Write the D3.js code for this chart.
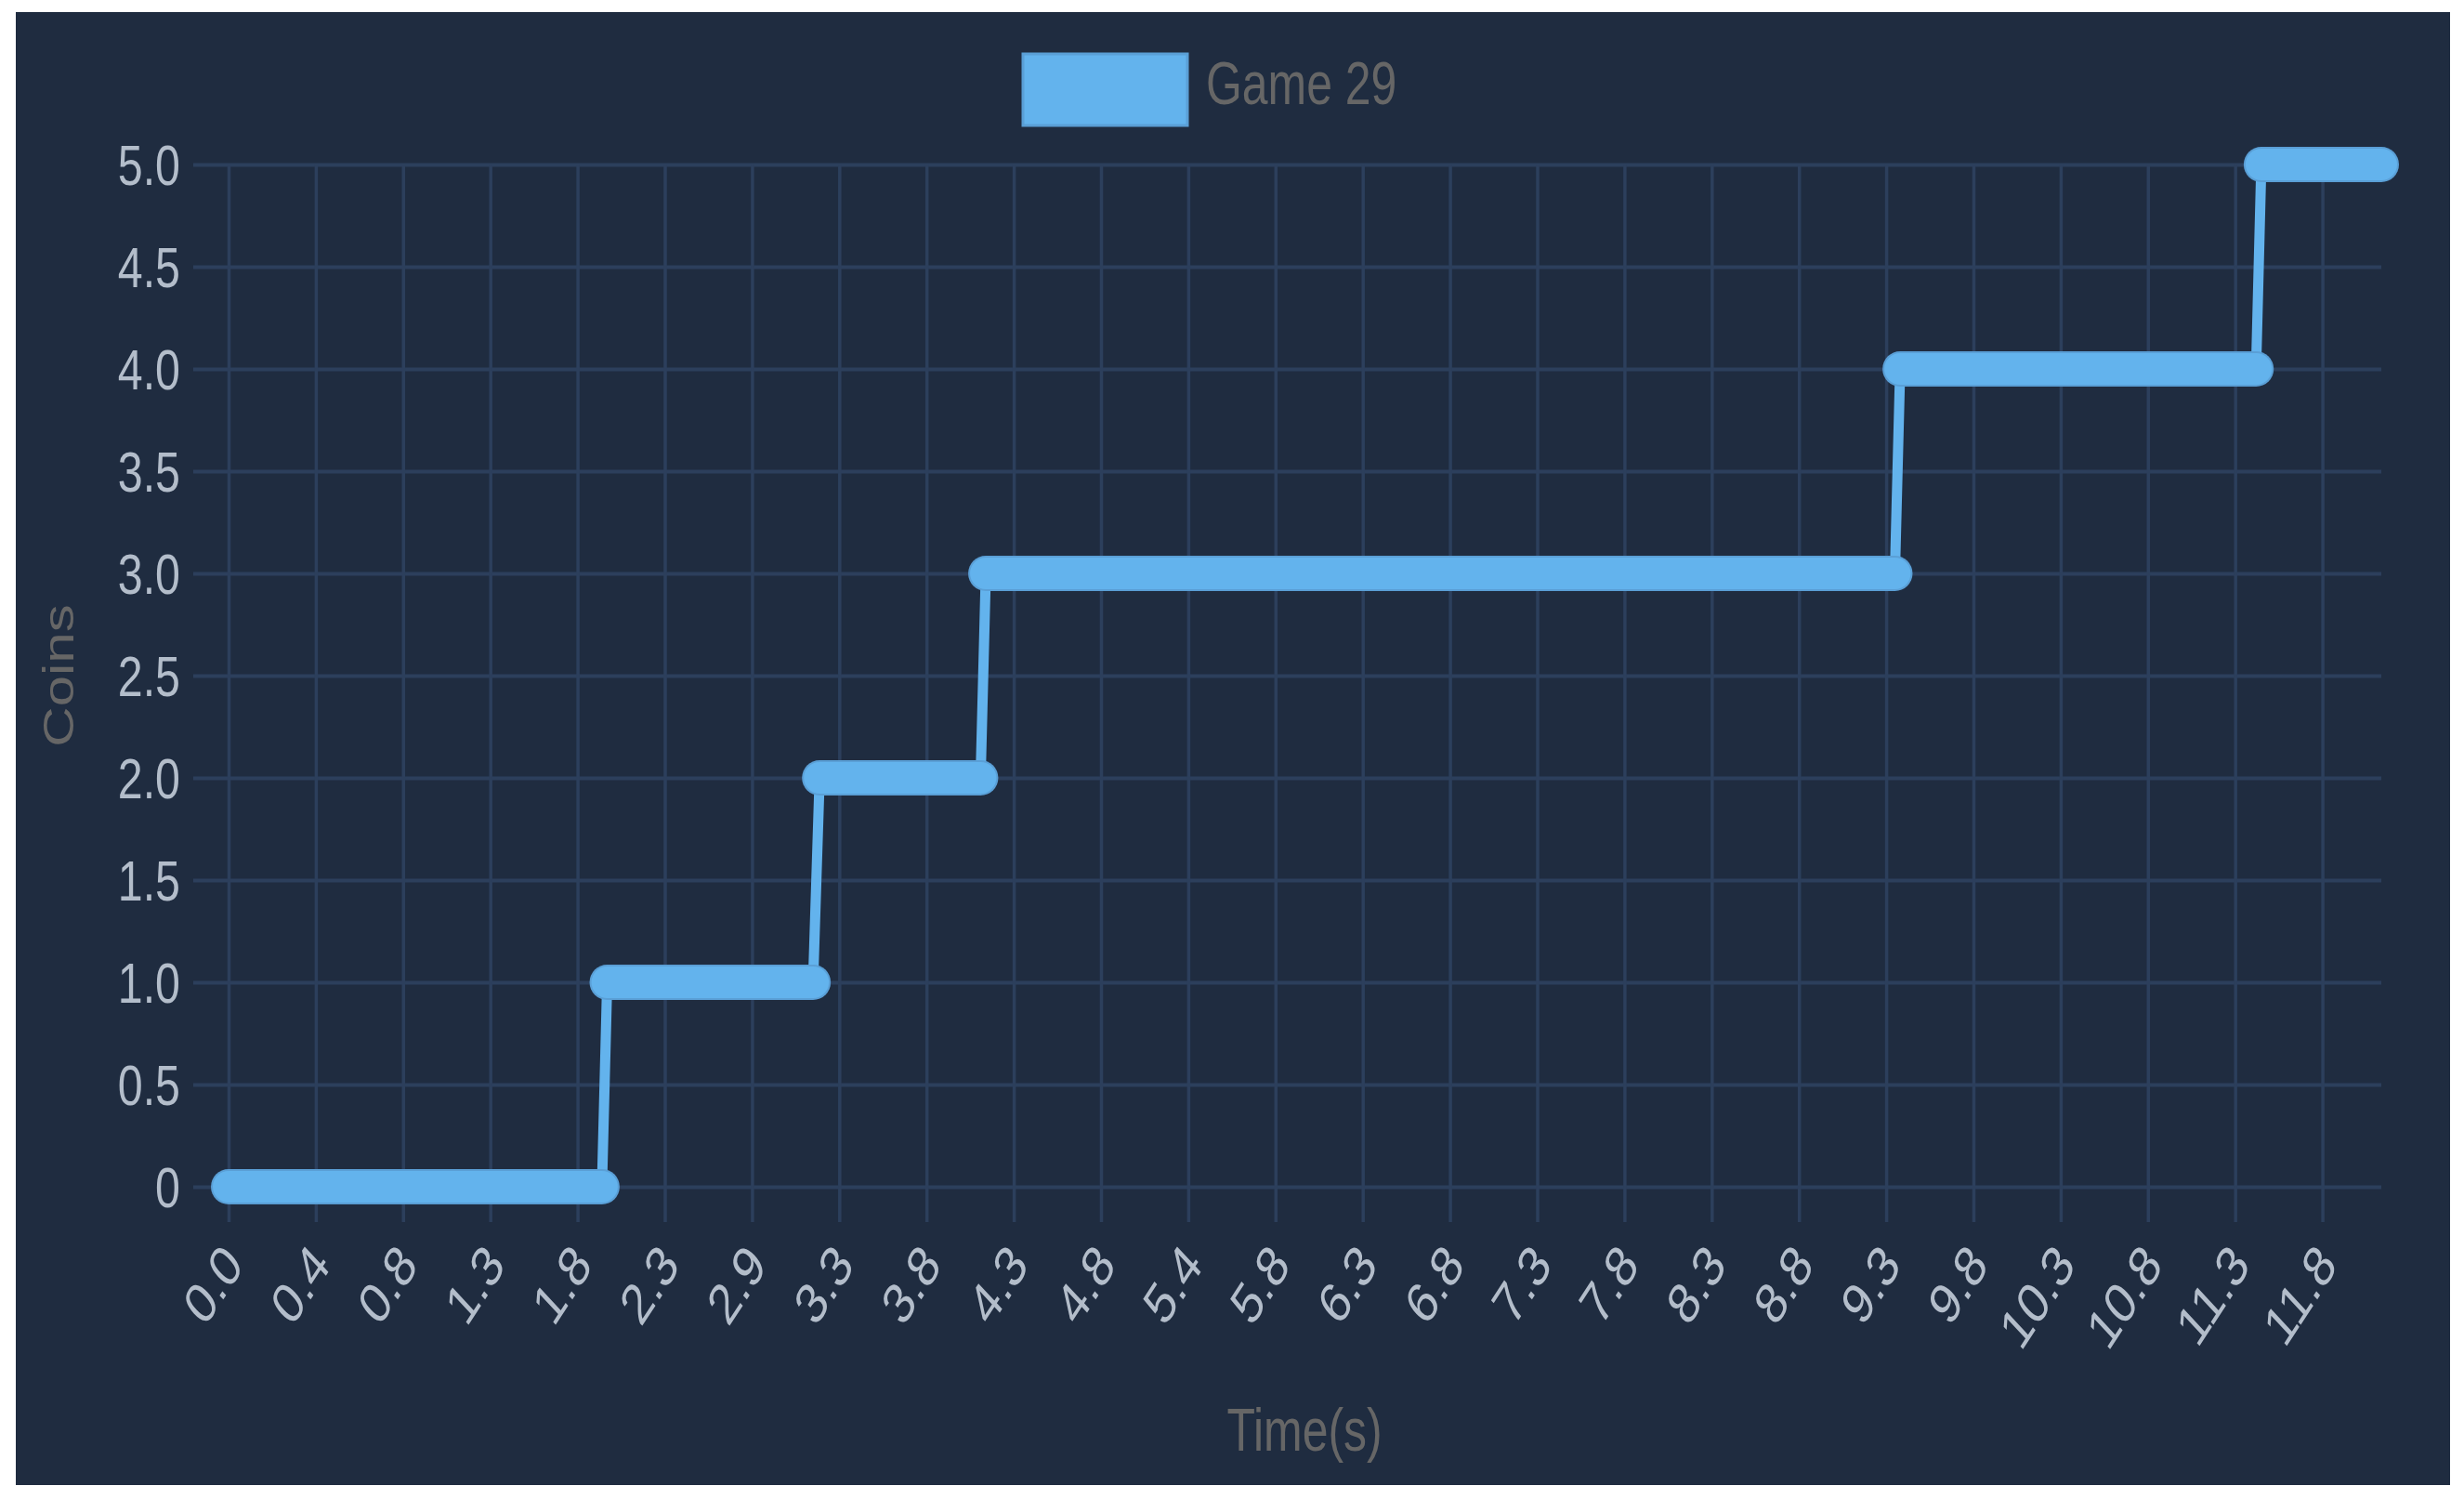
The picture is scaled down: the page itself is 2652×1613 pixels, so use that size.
<!DOCTYPE html>
<html>
<meta charset="utf-8">
<style>
body { margin: 0; background: #fff; }
svg { display: block; }
text { font-family: "Liberation Sans", Arial, Helvetica, sans-serif; }
.tick text { fill: #b3bdca; font-size: 62px; }
.tick line { stroke: #2c3f5c; }
.title { fill: #666; }
</style>
<body>
<svg id="chart" width="2652" height="1613"></svg>
<script src="https://d3js.org/d3.v7.min.js"></script>
<script>
// tick labels on the time axis (seconds), one per shown category
var xTicks = [0.0, 0.4, 0.8, 1.3, 1.8, 2.3, 2.9, 3.3, 3.8, 4.3, 4.8, 5.4, 5.8,
              6.3, 6.8, 7.3, 7.8, 8.3, 8.8, 9.3, 9.8, 10.3, 10.8, 11.3, 11.8];
var lastTime = 12.13;
var yTicks = [0, 0.5, 1, 1.5, 2, 2.5, 3, 3.5, 4, 4.5, 5];

// coin count, with first and last sample time of each level
var coins     = [0,    1,    2,    3,    4,     5];
var stepStart = [0.0,  1.97, 3.21, 4.14, 9.38,  11.45];
var stepEnd   = [1.94, 3.18, 4.11, 9.35, 11.42, 12.13];

var legendLabel = "Game 29";
var lineColor = "#63b3ed";
var squash = 0.78; // the picture is narrower than its text

var svg = d3.select("#chart");
var plotL = 246, plotR = 2563, plotT = 177, plotB = 1277;
var tickStep = 93.9, tickLen = 38;

svg.append("rect")
  .attr("x", 17).attr("y", 13)
  .attr("width", 2620).attr("height", 1585)
  .attr("fill", "#1f2c40");

// category axis: shown labels are evenly spaced, so map time piecewise
var x = d3.scaleLinear()
  .domain(xTicks.concat([lastTime]))
  .range(xTicks.map(function(d, i) { return plotL + i * tickStep; }).concat([plotR]));

var y = d3.scaleLinear().domain([0, 5]).range([plotB, plotT]);

// y grid + labels
var yAxis = svg.append("g")
  .attr("transform", "translate(" + (plotL - tickLen) + ",0)")
  .call(d3.axisLeft(y)
    .tickValues(yTicks)
    .tickSizeInner(-(plotR - plotL + tickLen))
    .tickSizeOuter(0)
    .tickPadding(0)
    .tickFormat(function(d) { return d === 0 ? "0" : d3.format(".1f")(d); }));
yAxis.select(".domain").remove();
yAxis.selectAll(".tick line").attr("stroke-width", 4);
yAxis.selectAll(".tick text")
  .attr("x", null).attr("dy", "0.35em")
  .attr("text-anchor", "end")
  .attr("transform", "translate(-14,0) scale(" + squash + ",1)");

// x grid + rotated labels
var xAxis = svg.append("g")
  .attr("transform", "translate(0," + plotT + ")")
  .call(d3.axisBottom(x)
    .tickValues(xTicks)
    .tickSizeInner(plotB - plotT + tickLen)
    .tickSizeOuter(0)
    .tickFormat(d3.format(".1f")));
xAxis.select(".domain").remove();
xAxis.selectAll(".tick line").attr("stroke-width", 3.5);
xAxis.selectAll(".tick text")
  .attr("y", null).attr("dy", "0.35em")
  .attr("text-anchor", "end")
  .attr("transform", "translate(4," + (plotB - plotT + tickLen + 34) + ") scale(" + squash + ",1) rotate(-50)");

// the line through every level's first and last sample
var pts = [];
coins.forEach(function(c, i) {
  pts.push([stepStart[i], c]);
  pts.push([stepEnd[i], c]);
});
var line = d3.line()
  .x(function(d) { return x(d[0]); })
  .y(function(d) { return y(d[1]); });

svg.append("path")
  .attr("d", line(pts))
  .attr("fill", "none")
  .attr("stroke", lineColor)
  .attr("stroke-width", 11)
  .attr("stroke-linejoin", "round");

// dense points merge into thick rounded bars on each level
var bars = svg.append("g");
coins.forEach(function(c, i) {
  var seg = [[stepStart[i], c], [stepEnd[i], c]];
  bars.append("path")
    .attr("d", line(seg))
    .attr("stroke", "#5a9fd6")
    .attr("stroke-width", 38)
    .attr("stroke-linecap", "round");
  bars.append("path")
    .attr("d", line(seg))
    .attr("stroke", lineColor)
    .attr("stroke-width", 34)
    .attr("stroke-linecap", "round");
});

// legend
svg.append("rect")
  .attr("x", 1101).attr("y", 58)
  .attr("width", 177).attr("height", 77)
  .attr("fill", lineColor)
  .attr("stroke", "#5a9fd6").attr("stroke-width", 3);
svg.append("text")
  .attr("class", "title")
  .attr("transform", "translate(1298,90) scale(" + squash + ",1)")
  .attr("dy", "0.35em")
  .style("font-size", "64px")
  .text(legendLabel);

// axis titles
svg.append("text")
  .attr("class", "title")
  .attr("transform", "translate(63,727) scale(" + squash + ",1) rotate(-90)")
  .attr("text-anchor", "middle")
  .attr("dy", "0.35em")
  .style("font-size", "60px")
  .text("Coins");

svg.append("text")
  .attr("class", "title")
  .attr("transform", "translate(1404,1539) scale(" + squash + ",1)")
  .attr("text-anchor", "middle")
  .attr("dy", "0.35em")
  .style("font-size", "64px")
  .text("Time(s)");
</script>
</body>
</html>
